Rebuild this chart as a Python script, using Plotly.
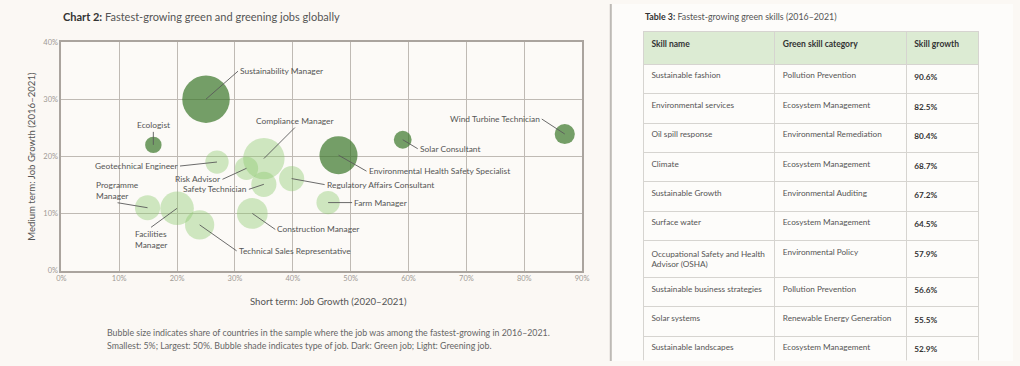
import plotly.graph_objects as go

# ---------------- Data: bubble chart ----------------
jobs = ["Sustainability Manager", "Ecologist", "Compliance Manager", "Geotechnical Engineer",
        "Risk Advisor", "Safety Technician", "Programme<br>Manager", "Facilities<br>Manager",
        "Technical Sales Representative", "Construction Manager", "Regulatory Affairs Consultant",
        "Farm Manager", "Environmental Health Safety Specialist", "Solar Consultant",
        "Wind Turbine Technician"]
short_term = [25.0, 15.9, 35.0, 26.9, 32.0, 35.0, 14.9, 20.0, 23.9, 33.0, 39.8, 46.1, 47.9, 59.0, 87.0]
medium_term = [30.0, 22.0, 19.6, 19.0, 17.9, 15.1, 11.0, 10.9, 8.0, 10.0, 16.1, 11.9, 20.2, 22.9, 23.9]
share = [50, 6, 38, 12, 12, 14, 14, 25, 19, 21, 14, 12, 32, 7, 9]
job_type = ["Green", "Green", "Greening", "Greening", "Greening", "Greening", "Greening", "Greening",
            "Greening", "Greening", "Greening", "Greening", "Green", "Green", "Green"]
x_ticks = [0, 10, 20, 30, 40, 50, 60, 70, 80, 90]
y_ticks = [0, 10, 20, 30, 40]

# ---------------- Data: table ----------------
skill_names = ["Sustainable fashion", "Environmental services", "Oil spill response", "Climate",
               "Sustainable Growth", "Surface water", "Occupational Safety and Health<br>Advisor (OSHA)",
               "Sustainable business strategies", "Solar systems", "Sustainable landscapes"]
skill_categories = ["Pollution Prevention", "Ecosystem Management", "Environmental Remediation",
                    "Ecosystem Management", "Environmental Auditing", "Ecosystem Management",
                    "Environmental Policy", "Pollution Prevention", "Renewable Energy Generation",
                    "Ecosystem Management"]
skill_growth = [90.6, 82.5, 80.4, 68.7, 67.2, 64.5, 57.9, 56.6, 55.5, 52.9]
table_headers = ["Skill name", "Green skill category", "Skill growth"]

# ---------------- Label styling (offsets in px) ----------------
label_style = {
    "Sustainability Manager": dict(ax=32, ay=-28, xanchor="left", yanchor="middle"),
    "Ecologist": dict(ax=0, ay=-13, xanchor="center", yanchor="bottom"),
    "Compliance Manager": dict(ax=31, ay=-31, xanchor="center", yanchor="bottom"),
    "Geotechnical Engineer": dict(ax=-37, ay=4, xanchor="right", yanchor="middle"),
    "Risk Advisor": dict(ax=-24, ay=11, xanchor="right", yanchor="middle"),
    "Safety Technician": dict(ax=-15, ay=5, xanchor="right", yanchor="middle"),
    "Programme<br>Manager": dict(ax=-30, ay=-5, xanchor="center", yanchor="bottom"),
    "Facilities<br>Manager": dict(ax=-26, ay=19, xanchor="center", yanchor="top"),
    "Technical Sales Representative": dict(ax=37, ay=26, xanchor="left", yanchor="middle"),
    "Construction Manager": dict(ax=23, ay=16, xanchor="left", yanchor="middle"),
    "Regulatory Affairs Consultant": dict(ax=33, ay=6, xanchor="left", yanchor="middle"),
    "Farm Manager": dict(ax=24, ay=0, xanchor="left", yanchor="middle"),
    "Environmental Health Safety Specialist": dict(ax=28, ay=16, xanchor="left", yanchor="middle"),
    "Solar Consultant": dict(ax=15, ay=9, xanchor="left", yanchor="middle"),
    "Wind Turbine Technician": dict(ax=-23, ay=-15, xanchor="right", yanchor="middle"),
}

W, H = 1020, 366
FONT = "Lato"
DARK = "#3b762a"
LIGHT = "rgba(140,200,110,0.58)"
MAX_DIAM = 47.5
sizeref = 2.0 * max(share) / (MAX_DIAM ** 2)

fig = go.Figure()

for kind, color in [("Greening", LIGHT), ("Green", DARK)]:
    idx = [i for i, t in enumerate(job_type) if t == kind]
    fig.add_trace(go.Scatter(
        x=[short_term[i] for i in idx],
        y=[medium_term[i] for i in idx],
        mode="markers",
        marker=dict(size=[share[i] for i in idx], sizemode="area", sizeref=sizeref,
                    color=color, line=dict(width=0)),
        name=kind, showlegend=False, cliponaxis=False, hoverinfo="skip",
        xaxis="x", yaxis="y",
    ))

# Table
fig.add_trace(go.Table(
    domain=dict(x=[646 / W, 985 / W], y=[0, 1 - 28 / H]),
    columnwidth=[133, 133, 73],
    header=dict(values=[f"<b>{h}</b>" for h in table_headers],
                fill_color="#dcebd3", line=dict(color="#d6d4d0", width=1),
                align="left", height=33,
                font=dict(family=FONT, size=8.5, color="#333333")),
    cells=dict(values=[skill_names, skill_categories, [f"<b>{v:.1f}%</b>" for v in skill_growth]],
               fill_color="#fdfcfa", line=dict(color="#d6d4d0", width=1),
               align="left", height=29.4,
               font=dict(family=FONT, size=[8.2, 8.2, 8.2], color=["#555555", "#555555", "#333333"])),
))

annotations = []
for i, name in enumerate(jobs):
    st = label_style[name]
    annotations.append(dict(
        x=short_term[i], y=medium_term[i], xref="x", yref="y",
        text=name, showarrow=True, arrowhead=0, arrowwidth=0.9, arrowcolor="#5a5a5a",
        standoff=0, startstandoff=0, axref="pixel", ayref="pixel",
        ax=st["ax"], ay=st["ay"], xanchor=st["xanchor"], yanchor=st["yanchor"],
        align="left", borderpad=1,
        font=dict(family=FONT, size=8.4, color="#555555"),
    ))

# Titles and notes
annotations += [
    dict(x=57 / W, y=1 - 13 / H, xref="paper", yref="paper", xanchor="left", yanchor="middle",
         showarrow=False,
         text="<b>Chart 2:</b> <span style='color:#555555'>Fastest-growing green and greening jobs globally</span>",
         font=dict(family=FONT, size=11, color="#333333")),
    dict(x=327 / W, y=1 - 305 / H, xref="paper", yref="paper", xanchor="center", yanchor="middle",
         showarrow=False, text="Short term: Job Growth (2020–2021)",
         font=dict(family=FONT, size=9.6, color="#555555")),
    dict(x=26 / W, y=1 - 156 / H, xref="paper", yref="paper", xanchor="center", yanchor="middle",
         showarrow=False, text="Medium term: Job Growth (2016–2021)", textangle=-90,
         font=dict(family=FONT, size=9.6, color="#555555")),
    dict(x=101 / W, y=1 - 337 / H, xref="paper", yref="paper", xanchor="left", yanchor="middle",
         showarrow=False,
         text="Bubble size indicates share of countries in the sample where the job was among the fastest-growing in 2016–2021.",
         font=dict(family=FONT, size=8.8, color="#666666")),
    dict(x=101 / W, y=1 - 350 / H, xref="paper", yref="paper", xanchor="left", yanchor="middle",
         showarrow=False,
         text="Smallest: 5%; Largest: 50%. Bubble shade indicates type of job. Dark: Green job; Light: Greening job.",
         font=dict(family=FONT, size=8.8, color="#666666")),
    dict(x=646 / W, y=1 - 13 / H, xref="paper", yref="paper", xanchor="left", yanchor="middle",
         showarrow=False,
         text="<b>Table 3:</b> <span style='color:#555555'>Fastest-growing green skills (2016–2021)</span>",
         font=dict(family=FONT, size=8.8, color="#333333")),
]

shapes = [
    dict(type="rect", xref="paper", yref="paper", x0=614 / W, x1=1, y0=0, y1=1,
         fillcolor="#fdfcfa", line=dict(width=0), layer="below"),
    dict(type="line", xref="paper", yref="paper", x0=613 / W, x1=613 / W, y0=0, y1=1,
         line=dict(color="#bdbab6", width=2)),
]

axis_common = dict(showgrid=True, gridcolor="#bfbab4", gridwidth=1, zeroline=False,
                   showline=True, linecolor="#aaa49e", linewidth=1.5, mirror=True, ticks="",
                   tickfont=dict(family=FONT, size=7.5, color="#a09a94"), fixedrange=True)

fig.update_layout(
    width=W, height=H,
    margin=dict(l=0, r=0, t=0, b=0),
    paper_bgcolor="#fbf8f4",
    plot_bgcolor="#fcfaf7",
    showlegend=False,
    annotations=annotations,
    shapes=shapes,
    xaxis=dict(domain=[57 / W, 584 / W], range=[0, 90], tickvals=x_ticks,
               ticktext=[f"{v}%" for v in x_ticks], **axis_common),
    yaxis=dict(domain=[1 - 273.3 / H, 1 - 39 / H], range=[0, 40], tickvals=y_ticks,
               ticktext=[f"{v}%" for v in y_ticks], **axis_common),
)

fig.write_html("out.html", config={"displayModeBar": False},
               post_script="document.body.style.margin='0px';document.body.style.overflow='hidden';")
